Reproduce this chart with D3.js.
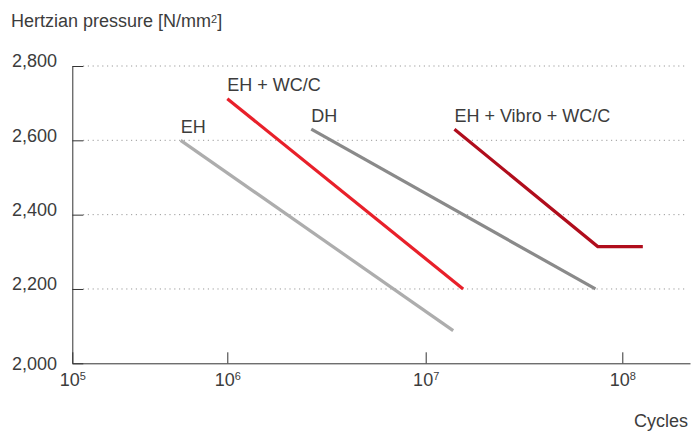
<!DOCTYPE html>
<html>
<head>
<meta charset="utf-8">
<script src="https://cdn.jsdelivr.net/npm/d3@7"></script>
<style>
  html, body { margin: 0; padding: 0; background: #fff; }
  svg { display: block; }
  text { font-family: "Liberation Sans", Arial, sans-serif; fill: #3c3c3c; }
</style>
</head>
<body>
<svg id="chart" width="691" height="432"></svg>
<script>
// ---- data ----
const seriesNames = ["EH", "EH + WC/C", "DH", "EH + Vibro + WC/C"];
const ehCycles = [5.0e5, 1.38e7];
const ehPressure = [2600, 2088];
const ehwcCycles = [1.0e6, 1.55e7];
const ehwcPressure = [2712, 2200];
const dhCycles = [2.65e6, 7.3e7];
const dhPressure = [2630, 2200];
const vibroCycles = [1.4e7, 7.5e7, 1.27e8];
const vibroPressure = [2630, 2314, 2314];
const seriesColors = ["#adadad", "#e8202a", "#8a8a8a", "#b00d1c"];

const yTicks = [2000, 2200, 2400, 2600, 2800];
const yTickLabels = ["2,000", "2,200", "2,400", "2,600", "2,800"];
const xTicks = [1e5, 1e6, 1e7, 1e8];
const xTickExponents = ["5", "6", "7", "8"];
const yTitle = "Hertzian pressure [N/mm";
const yTitleSup = "2";
const yTitleEnd = "]";
const xTitle = "Cycles";

// ---- build ----
const series = [
  {name: seriesNames[0], cycles: ehCycles, pressure: ehPressure, color: seriesColors[0]},
  {name: seriesNames[1], cycles: ehwcCycles, pressure: ehwcPressure, color: seriesColors[1]},
  {name: seriesNames[2], cycles: dhCycles, pressure: dhPressure, color: seriesColors[2]},
  {name: seriesNames[3], cycles: vibroCycles, pressure: vibroPressure, color: seriesColors[3]}
];

const svg = d3.select("#chart");

// piecewise log x scale (first decade is compressed in the original)
const x = d3.scaleLog()
  .domain([1e5, 1e6, 1e7, 1e8, 2.2e8])
  .range([72.3, 227.3, 425.7, 622.3, 690]);
const y = d3.scaleLinear().domain([2000, 2800]).range([363.3, 66]);

// gridlines (dotted)
svg.append("g").selectAll("line")
  .data(yTicks.filter(d => d > 2000))
  .join("line")
  .attr("x1", 83).attr("x2", 687)
  .attr("y1", d => y(d)).attr("y2", d => y(d))
  .attr("stroke", "#9a9a9a")
  .attr("stroke-width", 1)
  .attr("stroke-dasharray", "1.2,3.6");

// y axis
const yAxis = svg.append("g")
  .attr("transform", "translate(72.3,0)")
  .call(d3.axisLeft(y).tickValues(yTicks).tickSize(-11).tickSizeOuter(0).tickPadding(15.3)
    .tickFormat((d, i) => yTickLabels[i]));
yAxis.select(".domain").attr("stroke", "#333");
yAxis.selectAll(".tick line").attr("stroke", "#333");
yAxis.selectAll(".tick text")
  .attr("font-size", 18)
  .attr("font-family", "Liberation Sans, Arial, sans-serif")
  .attr("fill", "#3c3c3c")
  .attr("dy", d => d === 2000 ? "0.37em" : "0.04em");

// x axis
const xAxis = svg.append("g")
  .attr("transform", "translate(0,363.3)")
  .call(d3.axisBottom(x).tickValues(xTicks).tickSize(-11).tickSizeOuter(0).tickFormat(() => ""));
xAxis.select(".domain").attr("stroke", "#333");
xAxis.selectAll(".tick line").attr("stroke", "#333");
xAxis.selectAll(".tick text").remove();
xAxis.selectAll(".tick").each(function(d, i) {
  const t = d3.select(this).append("text")
    .attr("y", 22.4)
    .attr("text-anchor", "middle")
    .attr("font-size", 18)
    .attr("fill", "#3c3c3c");
  t.append("tspan").text("10");
  t.append("tspan").attr("font-size", 11).attr("dy", -6).text(xTickExponents[i]);
});

// titles
const tt = svg.append("text").attr("x", 11).attr("y", 26.7).attr("font-size", 18);
tt.append("tspan").text(yTitle);
tt.append("tspan").attr("font-size", 11).attr("dy", -4).text(yTitleSup);
tt.append("tspan").attr("dy", 4).text(yTitleEnd);

svg.append("text").attr("x", 688).attr("y", 427).attr("text-anchor", "end")
  .attr("font-size", 18).text(xTitle);

// lines
const line = d3.line().x(d => x(d[0])).y(d => y(d[1]));
svg.append("g").selectAll("path")
  .data(series)
  .join("path")
  .attr("d", s => line(s.cycles.map((c, i) => [c, s.pressure[i]])))
  .attr("fill", "none")
  .attr("stroke", s => s.color)
  .attr("stroke-width", 3.2)
  .attr("stroke-linejoin", "miter");

// series labels at line starts
svg.append("g").selectAll("text")
  .data(series)
  .join("text")
  .attr("x", s => x(s.cycles[0]))
  .attr("y", s => y(s.pressure[0]) - 7.5)
  .attr("font-size", 18)
  .text(s => s.name);
</script>
</body>
</html>
